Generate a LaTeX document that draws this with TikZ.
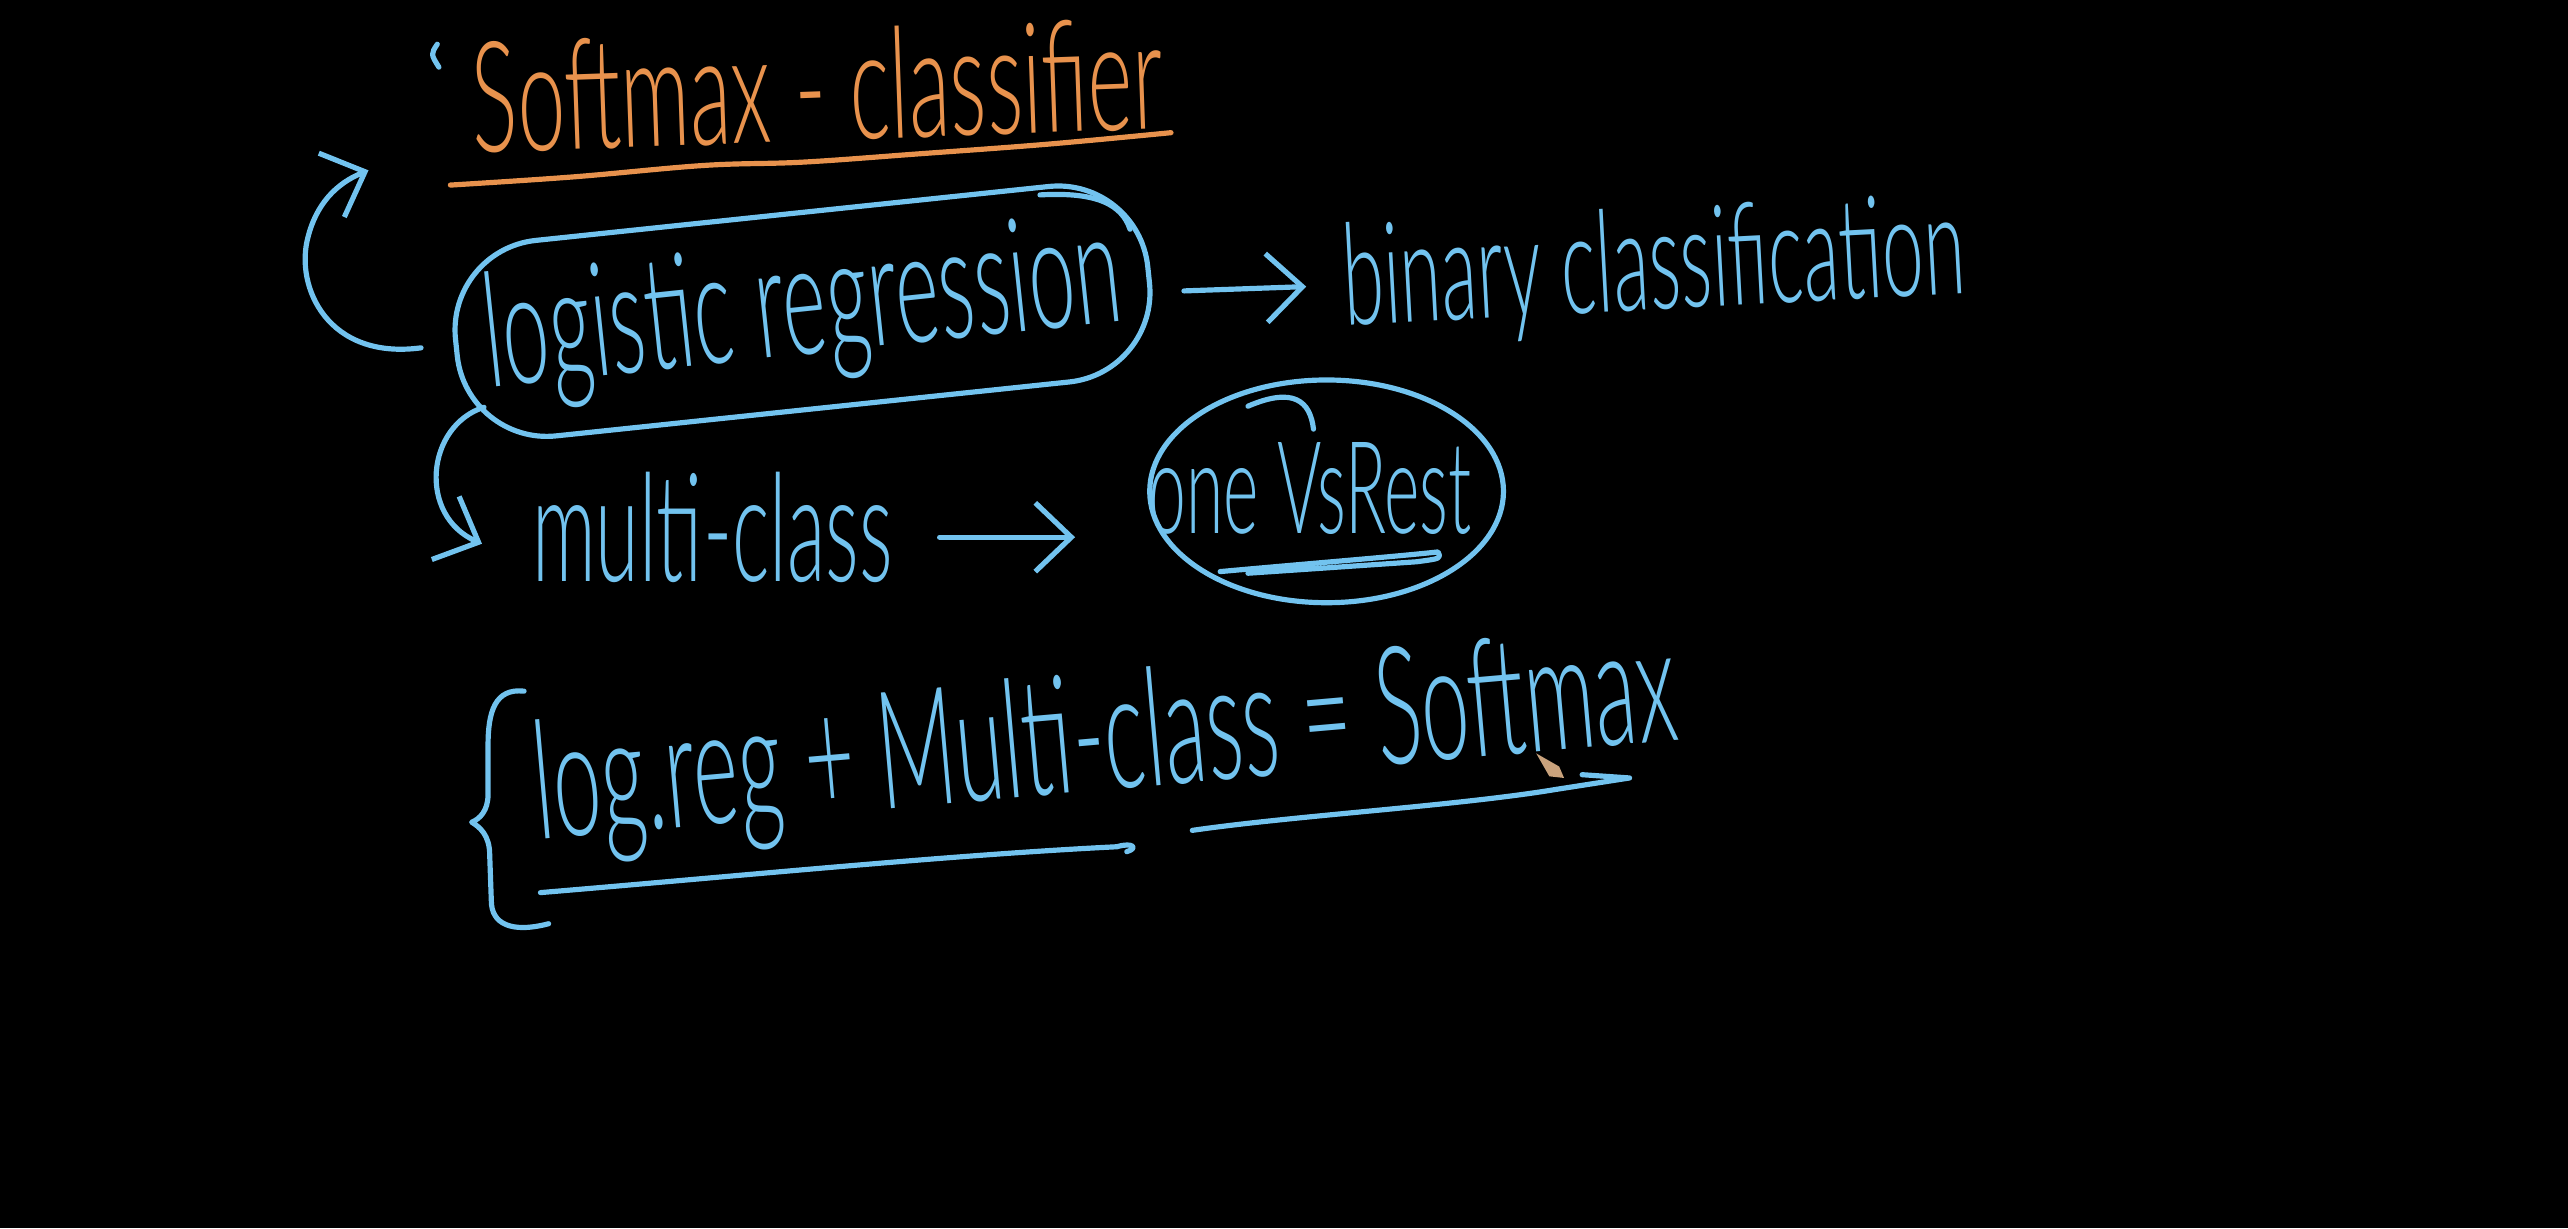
\documentclass[tikz,border=0pt]{standalone}
\usepackage{fontspec}
\setmainfont{Lato}[UprightFont=* Light]
\usetikzlibrary{arrows.meta,shapes.geometric}
\definecolor{pen}{HTML}{72C3EF}
\definecolor{orng}{HTML}{E8924D}
\definecolor{pencil}{HTML}{C9A27C}
\newcommand{\hw}[3][1.9]{\scalebox{1}[#1]{\resizebox{#2}{!}{#3}}}
\begin{document}
\begin{tikzpicture}[
  ink/.style={draw=pen, line width=0.9pt, line cap=round, line join=round},
  oink/.style={draw=orng, line width=0.9pt, line cap=round, line join=round},
  txt/.style={text=pen, inner sep=0pt},
  arr/.style={ink, -{Straight Barb[length=2.2mm,width=4.2mm]}},
]
\fill[black] (0,0) rectangle (15.68,-7.5);
\useasboundingbox (0,0) rectangle (15.68,-7.5);

% title
\node[txt, text=orng, rotate=2] (title) at (4.99,-0.52) {\hw[1.8]{4.22cm}{Softmax - classifier}};
\draw[oink] plot[smooth, tension=0.6] coordinates {(2.75,-1.13) (3.5,-1.08) (4.3,-1.01) (4.9,-0.99) (5.6,-0.94) (6.4,-0.88) (7.15,-0.81)};
\draw[ink] (2.67,-0.27) .. controls (2.63,-0.33) .. (2.68,-0.41);

% nodes
\node[ink, txt, rectangle, rounded corners=0.55cm, minimum width=4.25cm, minimum height=1.2cm, rotate=6] (logreg) at (4.9,-1.9) {\hw{3.9cm}{logistic regression}};
\draw[ink] (6.35,-1.19) .. controls (6.7,-1.17) and (6.85,-1.25) .. (6.9,-1.4);
\node[txt, rotate=3] (binary) at (10.1,-1.65) {\hw{3.8cm}{binary classification}};
\node[txt] (multi) at (4.35,-3.22) {\hw{2.2cm}{multi-class}};
\node[ink, ellipse, minimum width=2.16cm, minimum height=1.36cm, inner sep=0pt] (ovr) at (8.1,-3.0) {};
\node[txt] (ovrtext) at (8.0,-2.98) {\hw{1.97cm}{one VsRest}};
\draw[ink] (7.62,-2.48) .. controls (7.9,-2.36) and (8.0,-2.45) .. (8.02,-2.62);
\draw[ink] (7.45,-3.49) .. controls (8.0,-3.44) and (8.5,-3.4) .. (8.78,-3.37) .. controls (8.8,-3.41) .. (8.65,-3.43) -- (7.62,-3.5);
\node[txt, rotate=5] (eq) at (6.75,-4.55) {\hw{7.0cm}{log.reg + Multi-class = Softmax}};

% brace
\draw[ink] (3.2,-4.22) .. controls (3.02,-4.2) and (2.98,-4.35) .. (2.98,-4.55) -- (2.98,-4.85) .. controls (2.98,-4.95) and (2.93,-5.0) .. (2.88,-5.02) .. controls (2.93,-5.05) and (2.99,-5.1) .. (2.99,-5.22) -- (3.0,-5.5) .. controls (3.0,-5.64) and (3.12,-5.7) .. (3.35,-5.64);

% underlines of the equation
\draw[ink] (3.3,-5.45) .. controls (4.5,-5.35) and (5.8,-5.22) .. (6.82,-5.17) .. controls (6.92,-5.14) and (6.95,-5.18) .. (6.88,-5.2);
\draw[ink] (7.28,-5.07) .. controls (7.9,-4.98) and (8.9,-4.92) .. (9.5,-4.82) -- (9.95,-4.75) -- (9.66,-4.73);

% pencil cursor
\fill[pencil] (9.38,-4.6) -- (9.52,-4.68) -- (9.55,-4.75) -- (9.46,-4.74) -- cycle;

% connectors
\coordinate (up) at (2.25,-1.04);
\draw[arr] ([xshift=-2mm]logreg.west) .. controls (2.0,-2.2) and (1.8,-1.75) .. (1.88,-1.45) .. controls (1.93,-1.25) and (2.05,-1.12) .. (up);
\draw[arr] ([shift={(0.12,0.25)}]logreg.south west) .. controls (2.6,-2.6) and (2.55,-3.15) .. ([xshift=-3mm,yshift=-1mm]multi.west);
\draw[arr] ([xshift=2mm,yshift=-1mm]logreg.east) -- ([xshift=-2.2mm]binary.west);
\coordinate (mo) at (multi.east -| ovr.west);
\draw[arr] ([xshift=2.8mm,yshift=-0.6mm]multi.east) -- ([xshift=-4.4mm,yshift=-0.6mm]mo);
\end{tikzpicture}
\end{document}
